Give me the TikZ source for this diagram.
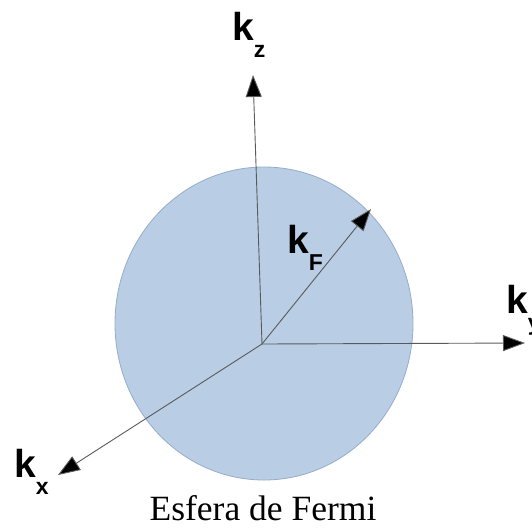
\documentclass[tikz,border=0pt]{standalone}
\usepackage{fontspec}
\setmainfont{Liberation Serif}
\newfontfamily\labelfont{Liberation Sans}
\usetikzlibrary{arrows.meta}
\definecolor{SphereFill}{RGB}{185,205,229}
\definecolor{SphereEdge}{RGB}{150,172,200}
\definecolor{AxisGray}{RGB}{90,90,90}
\newcommand{\wavelabel}[1]{{\fontsize{39}{39}\selectfont k}\raisebox{-17pt}{\fontsize{23}{23}\selectfont #1}}

\begin{document}
\begin{tikzpicture}[x=1pt,y=-1pt,
   axis/.style={AxisGray,line width=0.9pt,-{Triangle[length=22pt,width=16pt,fill=black]}},
   klab/.style={anchor=base west,inner sep=0pt,font=\labelfont\bfseries}]
\useasboundingbox (0,0) rectangle (532,528);
% Fermi sphere
\fill[SphereFill,draw=SphereEdge,line width=0.8pt] (264,323.5) ellipse [x radius=149,y radius=156.5];
\coordinate (O) at (262,344);
\coordinate (zend) at (253,75);
\coordinate (yend) at (525,343);
\coordinate (xend) at (58,475);
\coordinate (fend) at (371,209);
% axes
\draw[axis] (O) -- (zend);
\draw[axis] (O) -- (yend);
\draw[axis] (O) -- (xend);
\draw[axis] (O) -- (fend);
% labels
\node[klab] (kz) at (232,40) {\wavelabel{z}};
\node[klab] (ky) at (506,313) {\wavelabel{y}};
\node[klab] (kx) at (14,477) {\wavelabel{x}};
\node[klab] (kf) at (287,253) {\wavelabel{F}};
\node[anchor=base,inner sep=0pt,font=\fontsize{35.5}{35.5}\selectfont] (cap) at (263,520) {Esfera de Fermi};
\end{tikzpicture}
\end{document}
